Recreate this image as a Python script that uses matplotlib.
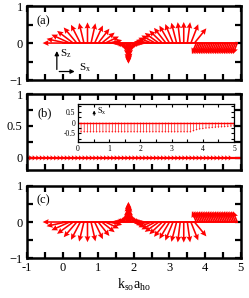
import numpy as np
import matplotlib.pyplot as plt
from matplotlib.ticker import MultipleLocator

plt.rcParams['font.family'] = 'Liberation Serif'
plt.rcParams['mathtext.fontset'] = 'custom'
plt.rcParams['mathtext.rm'] = 'Liberation Serif'
plt.rcParams['mathtext.it'] = 'Liberation Serif'

# --- spin texture, panel (a): left fan ---
k_fan1 = np.arange(0.0, 1.45, 0.1)
ang_fan1 = [180, 168, 156, 144, 131, 118, 104, 90, 77, 64, 51, 38, 25, 12, -5]
len_fan1 = [0.56, 0.56, 0.56, 0.56, 0.56, 0.56, 0.56, 0.56, 0.55, 0.53, 0.5, 0.46, 0.42, 0.38, 0.35]

# cusp around k ~ 1.85
k_cusp = [1.45, 1.5, 1.55, 1.6, 1.65, 1.7, 1.75, 1.8, 1.82, 1.83, 1.85, 1.87, 1.88,
          1.9, 1.95, 2.0, 2.05, 2.1, 2.15, 2.2, 2.25]
sx_cusp = [0.06, 0.05, 0.05, 0.04, 0.04, 0.03, 0.02, 0.01, 0.0, 0.0, 0.0, 0.0, 0.0,
           -0.01, -0.02, -0.03, -0.04, -0.04, -0.05, -0.05, -0.06]
sz_cusp = [-0.05, -0.07, -0.09, -0.11, -0.13, -0.16, -0.22, -0.35, -0.46, -0.52, -0.56,
           -0.5, -0.45, -0.35, -0.22, -0.16, -0.13, -0.11, -0.09, -0.07, -0.05]

# right fan
k_fan2 = np.arange(2.3, 3.75, 0.1)
ang_fan2 = [172, 166, 159, 152, 145, 137, 129, 121, 113, 105, 97, 90, 82, 68, 50]
len_fan2 = [0.3, 0.35, 0.4, 0.44, 0.48, 0.5, 0.53, 0.55, 0.56, 0.57, 0.57, 0.57, 0.57, 0.55, 0.52]

# tilted region k > 3.7
k_tilt = np.arange(3.75, 4.93, 0.05)
sx_tilt = -0.12
sz_tilt = -0.3

# panel (b): in-plane component along the line, inset Sx
k_b = np.arange(-0.95, 4.7, 0.1)
sx_b = 0.1
k_in = np.arange(0.0, 5.01, 0.1)
sz_in = [-0.47] * 37 + [-0.42, -0.37, -0.34, -0.32, -0.3, -0.29, -0.27, -0.26,
                        -0.25, -0.24, -0.23, -0.22, -0.21, -0.2]

red = '#ff0000'


def components():
    a1 = np.radians(ang_fan1)
    a2 = np.radians(ang_fan2)
    k = np.concatenate([k_fan1, k_cusp, k_fan2, k_tilt])
    sx = np.concatenate([np.array(len_fan1) * np.cos(a1), sx_cusp,
                         np.array(len_fan2) * np.cos(a2), np.full(len(k_tilt), sx_tilt)])
    sz = np.concatenate([np.array(len_fan1) * np.sin(a1), sz_cusp,
                         np.array(len_fan2) * np.sin(a2), np.full(len(k_tilt), sz_tilt)])
    return k, sx, sz


def style(ax, ymaj, ymin):
    ax.set_xlim(-1, 5)
    ax.xaxis.set_major_locator(MultipleLocator(1))
    ax.xaxis.set_minor_locator(MultipleLocator(0.5))
    ax.yaxis.set_major_locator(MultipleLocator(ymaj))
    ax.yaxis.set_minor_locator(MultipleLocator(ymin))
    ax.tick_params(which='both', direction='in', top=True, right=True,
                   length=4, width=1.6, labelsize=9, pad=3)
    for s in ax.spines.values():
        s.set_linewidth(1.8)


fig = plt.figure(figsize=(2.49, 2.98), dpi=100)
ax_a = fig.add_axes([0.108, 0.7315, 0.859, 0.248])
ax_b = fig.add_axes([0.108, 0.4295, 0.859, 0.255])
ax_c = fig.add_axes([0.108, 0.134, 0.859, 0.242])

k, sx, sz = components()
qkw = dict(angles='xy', scale_units='xy', scale=1, color=red, width=0.0075,
           headwidth=3.6, headlength=3.8, headaxislength=3.4, minlength=0.1)

for ax, sign, lab in [(ax_a, 1, '(a)'), (ax_c, -1, '(c)')]:
    ax.plot([k.min(), k.max()], [0, 0], color=red, lw=1.4)
    ax.quiver(k, np.zeros_like(k), sx, sign * sz, **qkw)
    ax.set_ylim(-1, 1)
    style(ax, 1, 0.5)
    ax.text(-0.72, 0.6, lab, fontsize=9, va='center')

ax_a.tick_params(labelbottom=False)
ax_a.annotate('', xy=(-0.16, -0.14), xytext=(-0.16, -0.79),
              arrowprops=dict(arrowstyle='-|>', color='k', lw=0.9, mutation_scale=6))
ax_a.annotate('', xy=(0.42, -0.77), xytext=(-0.17, -0.77),
              arrowprops=dict(arrowstyle='-|>', color='k', lw=0.9, mutation_scale=6))
ax_a.text(-0.08, -0.28, r'S$_\mathrm{z}$', fontsize=8, va='center')
ax_a.text(0.45, -0.66, r'S$_\mathrm{x}$', fontsize=8, va='center')

# panel (b)
ax_b.plot([-1, 5], [0, 0], color=red, lw=1.6)
ax_b.quiver(k_b, np.zeros_like(k_b), np.full(len(k_b), sx_b), np.zeros_like(k_b),
            angles='xy', scale_units='xy', scale=1, color=red, width=0.005,
            headwidth=5, headlength=3, headaxislength=2.7, minlength=0.1)
ax_b.set_ylim(-0.19, 1.0)
style(ax_b, 0.5, 0.25)
ax_b.tick_params(labelbottom=False)
ax_b.set_yticks([0, 0.5, 1])
ax_b.set_yticklabels(['0', '0.5', '1'])
ax_b.text(-0.69, 0.7, '(b)', fontsize=9, va='center')

# inset
ax_in = fig.add_axes([0.313, 0.523, 0.627, 0.128])
ax_in.plot([0, 5], [0, 0], color=red, lw=1.0)
ax_in.quiver(k_in, np.zeros_like(k_in), np.zeros_like(k_in), sz_in,
             angles='xy', scale_units='xy', scale=1, color=red, width=0.004,
             headwidth=3.5, headlength=2.5, headaxislength=2.2, minlength=0.1)
ax_in.set_xlim(0, 5)
ax_in.set_ylim(-0.9, 0.85)
ax_in.xaxis.set_major_locator(MultipleLocator(1))
ax_in.xaxis.set_minor_locator(MultipleLocator(0.5))
ax_in.yaxis.set_major_locator(MultipleLocator(0.5))
ax_in.yaxis.set_minor_locator(MultipleLocator(0.25))
ax_in.tick_params(which='both', direction='in', top=True, right=True,
                  length=2, width=0.8, labelsize=5.5, pad=2)
ax_in.set_yticks([-0.5, 0, 0.5])
ax_in.set_yticklabels(['-0.5', '0', '0.5'])
for s in ax_in.spines.values():
    s.set_linewidth(0.9)
ax_in.annotate('', xy=(0.52, 0.68), xytext=(0.52, 0.2),
               arrowprops=dict(arrowstyle='-|>', color='k', lw=0.7, mutation_scale=4))
ax_in.text(0.6, 0.5, r'S$_\mathrm{x}$', fontsize=6, va='center')

ax_c.set_xticks([-1, 0, 1, 2, 3, 4, 5])
ax_c.set_xticklabels(['-1', '0', '1', '2', '3', '4', '5'])
ax_c.set_xlabel(r'k$_\mathrm{so}$a$_\mathrm{ho}$', fontsize=10, labelpad=2)

plt.savefig('out.png', dpi=100)
